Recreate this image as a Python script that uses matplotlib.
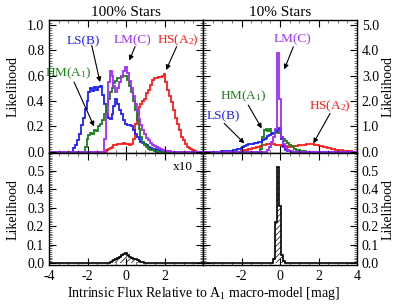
import numpy as np
import matplotlib
matplotlib.use("Agg")
import matplotlib.pyplot as plt
from matplotlib.ticker import MultipleLocator

plt.rcParams['font.family'] = ['Liberation Serif', 'DejaVu Serif']
plt.rcParams['axes.unicode_minus'] = False
plt.rcParams['hatch.linewidth'] = 0.6
plt.rcParams['mathtext.fontset'] = 'custom'
plt.rcParams['mathtext.rm'] = 'Liberation Serif'
plt.rcParams['mathtext.it'] = 'Liberation Serif:italic'

# ---- data: histogram values (bin width 0.1 mag), first bin centre given ----
# 100% stars
ls100_start = -2.8
ls100 = [0.0, 0.03, 0.05, 0.09, 0.14, 0.21, 0.27, 0.34, 0.40, 0.47, 0.50, 0.48, 0.51, 0.49,
         0.51, 0.52, 0.45, 0.38, 0.30, 0.27, 0.26, 0.30, 0.36, 0.42, 0.38, 0.33, 0.30, 0.25,
         0.22, 0.21, 0.21, 0.20, 0.17, 0.14, 0.12, 0.10, 0.08, 0.07, 0.06, 0.05, 0.04, 0.03,
         0.025, 0.02, 0.016, 0.012, 0.009, 0.007, 0.005, 0.003, 0.002]
hm100_start = -2.1
hm100 = [0.04, 0.10, 0.13, 0.15, 0.14, 0.17, 0.16, 0.20, 0.22, 0.25, 0.30, 0.37, 0.42, 0.47,
         0.50, 0.54, 0.56, 0.58, 0.58, 0.59, 0.60, 0.60, 0.57, 0.52, 0.47, 0.40, 0.33, 0.25,
         0.18, 0.12, 0.08, 0.05, 0.035, 0.025, 0.015, 0.01, 0.005]
lm100_start = -1.1
lm100 = [0.10, 0.30, 0.55, 0.64, 0.60, 0.52, 0.47, 0.50, 0.55, 0.60, 0.64, 0.67, 0.62, 0.56,
         0.50, 0.44, 0.38, 0.32, 0.26, 0.21, 0.17, 0.14, 0.11, 0.09, 0.07, 0.055, 0.045, 0.035,
         0.028, 0.02, 0.015, 0.01, 0.007, 0.005, 0.003]
hs100_start = -1.0
hs100 = [0.01, 0.02, 0.03, 0.04, 0.05, 0.05, 0.06, 0.06, 0.06, 0.07, 0.06, 0.06, 0.05, 0.06,
         0.10, 0.22, 0.30, 0.35, 0.38, 0.40, 0.42, 0.46, 0.49, 0.53, 0.57, 0.58, 0.58, 0.59,
         0.59, 0.60, 0.61, 0.55, 0.49, 0.44, 0.39, 0.33, 0.27, 0.22, 0.17, 0.12, 0.09, 0.06,
         0.04, 0.03, 0.02, 0.01, 0.005]
# 10% stars
ls10_start = -3.0
ls10 = [0.01, 0.01, 0.02, 0.02, 0.03, 0.04, 0.05, 0.07, 0.09, 0.12, 0.15, 0.19, 0.22, 0.26,
        0.29, 0.31, 0.32, 0.33, 0.35, 0.38, 0.40, 0.45, 0.52, 0.55, 0.62, 0.65, 0.70, 0.75,
        0.80, 0.85, 0.95, 0.50, 0.20, 0.08, 0.03, 0.01]
hm10_start = -1.0
hm10 = [0.10, 0.60, 0.85, 0.90, 0.80, 0.90, 0.75, 0.72, 0.75, 0.78, 0.72, 0.60, 0.50, 0.42,
        0.35, 0.28, 0.22, 0.17, 0.12, 0.08, 0.05, 0.03, 0.02, 0.01]
lm10_start = -0.6
lm10 = [0.05, 0.20, 0.40, 0.60, 0.90, 3.90, 2.10, 0.60, 0.30, 0.15, 0.08, 0.04, 0.02]
hs10_start = -2.0
hs10 = [0.02, 0.04, 0.06, 0.08, 0.10, 0.12, 0.14, 0.16, 0.18, 0.20, 0.22, 0.25, 0.28, 0.30,
        0.32, 0.32, 0.31, 0.30, 0.28, 0.27, 0.25, 0.24, 0.22, 0.21, 0.20, 0.20, 0.21, 0.22,
        0.23, 0.24, 0.25, 0.26, 0.27, 0.28, 0.29, 0.30, 0.30, 0.29, 0.28, 0.27, 0.25, 0.23,
        0.21, 0.19, 0.17, 0.15, 0.13, 0.11, 0.10, 0.08, 0.07, 0.06, 0.05, 0.04, 0.03, 0.02,
        0.015, 0.01, 0.005]
# bottom (hatched) histograms
bot100_start = -0.8   # shown x10
bot100 = [0.005, 0.01, 0.015, 0.02, 0.03, 0.035, 0.045, 0.05, 0.055, 0.045, 0.035, 0.03,
          0.025, 0.02, 0.018, 0.012, 0.008, 0.004, 0.002]
bot10_start = -0.3
bot10 = [0.02, 0.22, 0.52, 0.31, 0.045, 0.01]

titles = ["100% Stars", "10% Stars"]
xlabel = "Intrinsic Flux Relative to A$_1$ macro-model [mag]"

centers = np.round(np.arange(-4.0, 4.0001, 0.1), 2)
edges = np.concatenate([centers - 0.05, [centers[-1] + 0.05]])


def full(start, vals):
    out = np.zeros(len(centers))
    i0 = int(round((start + 4.0) / 0.1))
    out[i0:i0 + len(vals)] = vals
    return out


C_BLUE = '#1f1fff'
C_GREEN = '#1a7f1a'
C_PURPLE = '#a02cf5'
C_RED = '#ff1a1a'

fig = plt.figure(figsize=(4.07, 3.05), dpi=100)
W, H = 407.0, 305.0
xl, xm, xr = 49 / W, 203 / W, 357 / W
yt, ymid, yb = 1 - 20 / H, 1 - 153 / H, 1 - 265 / H
ax_tl = fig.add_axes([xl, ymid, xm - xl, yt - ymid])
ax_tr = fig.add_axes([xm, ymid, xr - xm, yt - ymid])
ax_bl = fig.add_axes([xl, yb, xm - xl, ymid - yb])
ax_br = fig.add_axes([xm, yb, xr - xm, ymid - yb])

lw = 1.3
for ax, series in [(ax_tl, [(hs100_start, hs100, C_RED), (ls100_start, ls100, C_BLUE),
                            (hm100_start, hm100, C_GREEN), (lm100_start, lm100, C_PURPLE)]),
                   (ax_tr, [(hs10_start, hs10, C_RED), (hm10_start, hm10, C_GREEN),
                            (ls10_start, ls10, C_BLUE), (lm10_start, lm10, C_PURPLE)])]:
    for st, v, c in series:
        ax.stairs(full(st, v), edges, color=c, lw=lw, baseline=None)

for ax, (st, v) in [(ax_bl, (bot100_start, bot100)), (ax_br, (bot10_start, bot10))]:
    vals = full(st, v)
    ax.stairs(vals, edges, fill=True, facecolor='white', edgecolor='#333333',
              hatch='//////', lw=0)
    ax.stairs(vals, edges, color='black', lw=1.2, baseline=None)

for ax in [ax_tl, ax_tr, ax_bl, ax_br]:
    ax.set_xlim(-4, 4)
    ax.xaxis.set_major_locator(MultipleLocator(2))
    ax.xaxis.set_minor_locator(MultipleLocator(0.5))
    ax.tick_params(which='both', direction='in', top=True, bottom=True, left=True,
                   right=True, labelsize=10, colors='black')
    ax.tick_params(which='major', length=5, width=0.8)
    ax.tick_params(which='minor', length=2, width=0.4)
    for s in ax.spines.values():
        s.set_linewidth(1.0)

ax_tl.set_ylim(-0.01, 1.04)
ax_tl.yaxis.set_major_locator(MultipleLocator(0.2))
ax_tl.yaxis.set_minor_locator(MultipleLocator(0.02))
ax_tl.yaxis.set_major_formatter(matplotlib.ticker.FormatStrFormatter('%.1f'))
ax_tr.set_ylim(-0.05, 5.2)
ax_tr.yaxis.set_major_locator(MultipleLocator(1.0))
ax_tr.yaxis.set_minor_locator(MultipleLocator(0.1))
ax_tr.yaxis.set_major_formatter(matplotlib.ticker.FormatStrFormatter('%.1f'))
for ax in [ax_bl, ax_br]:
    ax.set_ylim(-0.01, 0.595)
    ax.yaxis.set_major_locator(MultipleLocator(0.1))
    ax.yaxis.set_minor_locator(MultipleLocator(0.01))
    ax.yaxis.set_major_formatter(matplotlib.ticker.FormatStrFormatter('%.1f'))

ax_tl.tick_params(labelbottom=False)
ax_tr.tick_params(labelbottom=False, labelleft=False, labelright=True)
ax_br.tick_params(labelleft=False, labelright=True)
ax_bl.set_xticks([-4, -2, 0, 2])
ax_br.set_xticks([-2, 0, 2, 4])

for ax in [ax_tl, ax_bl]:
    ax.set_ylabel("Likelihood", fontsize=10, labelpad=5)
for ax in [ax_tr, ax_br]:
    ax.yaxis.set_label_position('right')
    ax.set_ylabel("Likelihood", fontsize=10, rotation=90, labelpad=2)

ax_tl.set_title(titles[0], fontsize=11, pad=3)
ax_tr.set_title(titles[1], fontsize=11, pad=3)

fs = 9.5
arr = dict(arrowstyle='-|>', color='black', lw=0.8, mutation_scale=7, shrinkA=0, shrinkB=0)
# 100% panel annotations
ax_tl.annotate("", xy=(-1.35, 0.55), xytext=(-1.78, 0.84), arrowprops=arr)
ax_tl.text(-2.23, 0.87, "LS(B)", color=C_BLUE, fontsize=fs, ha='center', va='center')
ax_tl.annotate("", xy=(0.17, 0.72), xytext=(0.47, 0.83), arrowprops=arr)
ax_tl.text(0.36, 0.88, "LM(C)", color=C_PURPLE, fontsize=fs, ha='center', va='center')
ax_tl.annotate("", xy=(2.08, 0.645), xytext=(2.63, 0.83), arrowprops=arr)
ax_tl.text(2.7, 0.88, "HS(A$_2$)", color=C_RED, fontsize=fs, ha='center', va='center')
ax_tl.annotate("", xy=(-1.66, 0.2), xytext=(-2.7, 0.55), arrowprops=arr)
ax_tl.text(-3.0, 0.62, "HM(A$_1$)", color=C_GREEN, fontsize=fs, ha='center', va='center')
# 10% panel annotations
ax_tr.annotate("", xy=(0.22, 3.25), xytext=(0.69, 4.14), arrowprops=arr)
ax_tr.text(0.64, 4.44, "LM(C)", color=C_PURPLE, fontsize=fs, ha='center', va='center')
ax_tr.annotate("", xy=(-0.95, 0.92), xytext=(-1.65, 1.84), arrowprops=arr)
ax_tr.text(-1.9, 2.17, "HM(A$_1$)", color=C_GREEN, fontsize=fs, ha='center', va='center')
ax_tr.annotate("", xy=(-1.85, 0.33), xytext=(-2.9, 1.12), arrowprops=arr)
ax_tr.text(-2.94, 1.38, "LS(B)", color=C_BLUE, fontsize=fs, ha='center', va='center')
ax_tr.annotate("", xy=(1.73, 0.33), xytext=(2.6, 1.51), arrowprops=arr)
ax_tr.text(2.6, 1.78, "HS(A$_2$)", color=C_RED, fontsize=fs, ha='center', va='center')

ax_bl.text(2.96, 0.52, "x10", fontsize=9.5, ha='center', va='center')

fig.text(xm, 1 - 293 / H, xlabel, fontsize=10, ha='center', va='center')

fig.savefig("out.png", dpi=100)
